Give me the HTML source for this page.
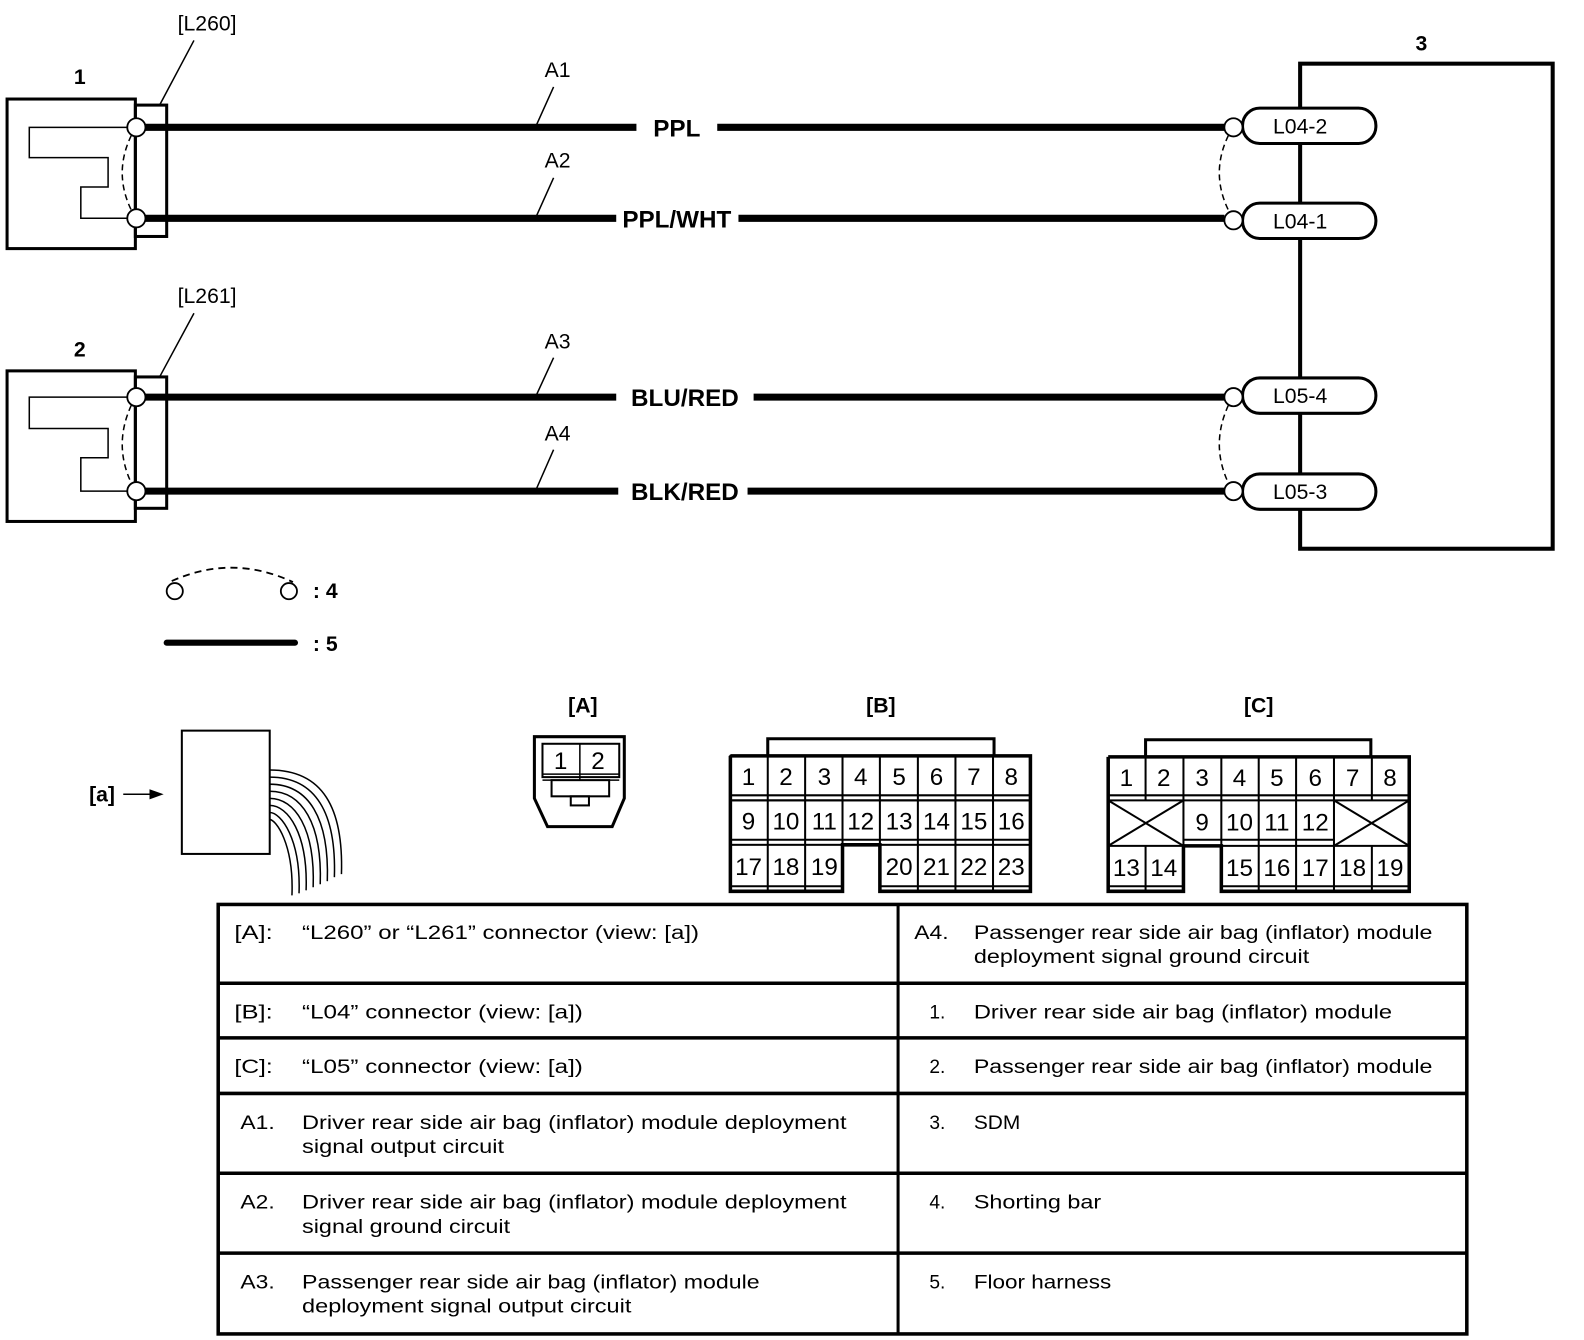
<!DOCTYPE html>
<html><head><meta charset="utf-8"><style>
html,body{margin:0;padding:0;background:#fff;}
svg{display:block;}
text{font-family:"Liberation Sans",Arial,sans-serif;fill:#000;}
.t text{font-size:19px;}
</style></head><body>
<svg width="1584" height="1340" viewBox="0 0 1568 1326" preserveAspectRatio="none" xmlns="http://www.w3.org/2000/svg">
<g fill="none" stroke="#000">
<rect x="7" y="98" width="127" height="148" stroke-width="3"/>
<rect x="134" y="104" width="31" height="130" stroke-width="3"/>
<polyline points="135,126 29,126 29,156 107,156 107,185 80,185 80,216 135,216" stroke-width="1.5"/>
<path d="M130,134 Q112,171 130,208" stroke-width="1.5" stroke-dasharray="6,4"/>
<rect x="7" y="367" width="127" height="149" stroke-width="3"/>
<rect x="134" y="373" width="31" height="130" stroke-width="3"/>
<polyline points="135,393 29,393 29,424 107,424 107,453 80,453 80,486 135,486" stroke-width="1.5"/>
<path d="M130,401 Q112,440 130,478" stroke-width="1.5" stroke-dasharray="6,4"/>
<g stroke-width="7">
<line x1="140" y1="126" x2="630" y2="126"/><line x1="710" y1="126" x2="1212" y2="126"/>
<line x1="140" y1="216" x2="610" y2="216"/><line x1="731" y1="216" x2="1212" y2="216"/>
<line x1="140" y1="393" x2="610" y2="393"/><line x1="746" y1="393" x2="1212" y2="393"/>
<line x1="140" y1="486" x2="612" y2="486"/><line x1="740" y1="486" x2="1212" y2="486"/>
</g>
<g stroke-width="1.5">
<line x1="192" y1="40" x2="158" y2="104"/>
<line x1="192" y1="310" x2="158" y2="373"/>
<line x1="548" y1="86" x2="530" y2="126"/>
<line x1="548" y1="176" x2="530" y2="216"/>
<line x1="548" y1="354" x2="530" y2="393"/>
<line x1="548" y1="445" x2="530" y2="486"/>
</g>
<rect x="1287" y="63" width="250" height="480" stroke-width="4"/>
<g stroke-width="3" fill="#fff">
<rect x="1230" y="107" width="132" height="35" rx="17"/>
<rect x="1230" y="201" width="132" height="35" rx="17"/>
<rect x="1230" y="374" width="132" height="35" rx="17"/>
<rect x="1230" y="469" width="132" height="35" rx="17"/>
</g>
<path d="M1216,134 Q1198,171 1216,208" stroke-width="1.5" stroke-dasharray="6,4"/>
<path d="M1216,401 Q1198,440 1216,478" stroke-width="1.5" stroke-dasharray="6,4"/>
<g stroke-width="1.8" fill="#fff">
<circle cx="135" cy="126" r="9"/><circle cx="135" cy="216" r="9"/>
<circle cx="135" cy="393" r="9"/><circle cx="135" cy="486" r="9"/>
<circle cx="1221" cy="126" r="9"/><circle cx="1221" cy="218" r="9"/>
<circle cx="1221" cy="393" r="9"/><circle cx="1221" cy="486" r="9"/>
</g>
<path d="M170,575 Q230,548 290,576" stroke-width="1.8" stroke-dasharray="7,5"/>
<circle cx="173" cy="585" r="8" stroke-width="1.8"/>
<circle cx="286" cy="585" r="8" stroke-width="1.8"/>
<line x1="165" y1="636" x2="292" y2="636" stroke-width="6" stroke-linecap="round"/>
<line x1="122" y1="786" x2="150" y2="786" stroke-width="1.5"/>
<polygon points="148,781 162,786 148,791" fill="#000" stroke="none"/>
<rect x="180" y="723" width="87" height="122" stroke-width="2"/>
<g stroke-width="1.5">
<path d="M267,762 C320,762 340,800 338,865"/>
<path d="M267,769 C313,769 333,805 331,868"/>
<path d="M267,776 C306,776 326,810 324,872"/>
<path d="M267,783 C299,783 319,815 317,875"/>
<path d="M267,790 C292,790 312,820 310,878"/>
<path d="M267,797 C285,797 305,825 303,881"/>
<path d="M267,804 C278,804 298,830 296,884"/>
<path d="M267,811 C273,811 291,835 289,886"/>
</g>
<path d="M529,729 L618,729 L618,790 L606,818 L542,818 L529,790 Z" stroke-width="3"/>
<rect x="537" y="736" width="76" height="33" stroke-width="2"/>
<line x1="574" y1="736" x2="574" y2="772" stroke-width="1.5"/>
<line x1="537" y1="766" x2="613" y2="766" stroke-width="1.5"/>
<line x1="537" y1="772" x2="613" y2="772" stroke-width="1.5"/>
<rect x="546" y="772" width="57" height="16" stroke-width="2"/>
<rect x="565" y="788" width="18" height="9" stroke-width="2"/>
<polyline points="760,748 760,731 984,731 984,748" stroke-width="3"/>
<g stroke-width="2">
<rect x="723" y="748" width="297" height="44"/>
<rect x="723" y="792" width="297" height="44"/>
<line x1="760" y1="748" x2="760" y2="882"/><line x1="797" y1="748" x2="797" y2="882"/>
<line x1="834" y1="748" x2="834" y2="882"/><line x1="871" y1="748" x2="871" y2="882"/>
<line x1="908.6" y1="748" x2="908.6" y2="882"/><line x1="945.8" y1="748" x2="945.8" y2="882"/>
<line x1="983" y1="748" x2="983" y2="882"/>
<line x1="723" y1="787" x2="1020" y2="787"/><line x1="723" y1="831" x2="1020" y2="831"/>
<line x1="723" y1="877" x2="834" y2="877"/><line x1="871" y1="877" x2="1020" y2="877"/>
</g>
<polyline points="723,748 1020,748 1020,882 871,882 871,836 834,836 834,882 723,882 723,748" stroke-width="3.5"/>
<polyline points="1134,749 1134,732 1357,732 1357,749" stroke-width="3"/>
<g stroke-width="2">
<line x1="1097" y1="792" x2="1395" y2="792"/>
<line x1="1097" y1="837" x2="1171" y2="837"/><line x1="1209" y1="837" x2="1395" y2="837"/>
<line x1="1171.5" y1="837" x2="1209" y2="837" stroke-width="3"/>
<line x1="1134" y1="749" x2="1134" y2="792"/><line x1="1134" y1="837" x2="1134" y2="882"/>
<line x1="1171.5" y1="749" x2="1171.5" y2="837"/>
<line x1="1209" y1="749" x2="1209" y2="882"/>
<line x1="1246" y1="749" x2="1246" y2="882"/><line x1="1283" y1="749" x2="1283" y2="882"/>
<line x1="1320.5" y1="749" x2="1320.5" y2="882"/>
<line x1="1358" y1="749" x2="1358" y2="792"/><line x1="1358" y1="837" x2="1358" y2="882"/>
<line x1="1097" y1="787" x2="1395" y2="787"/>
<line x1="1171.5" y1="831" x2="1320.5" y2="831"/>
<line x1="1097" y1="877" x2="1171.5" y2="877"/><line x1="1209" y1="877" x2="1395" y2="877"/>
<line x1="1097" y1="792" x2="1171.5" y2="837"/><line x1="1171.5" y1="792" x2="1097" y2="837"/>
<line x1="1320.5" y1="792" x2="1395" y2="837"/><line x1="1395" y1="792" x2="1320.5" y2="837"/>
</g>
<polyline points="1097,749 1395,749 1395,882 1209,882 1209,837 1171.5,837 1171.5,882 1097,882 1097,749" stroke-width="3.5"/>
<rect x="216" y="895" width="1236" height="425" stroke-width="3.5"/>
<line x1="889" y1="895" x2="889" y2="1320" stroke-width="3"/>
<g stroke-width="3.5">
<line x1="216" y1="973" x2="1452" y2="973"/><line x1="216" y1="1027" x2="1452" y2="1027"/>
<line x1="216" y1="1082" x2="1452" y2="1082"/><line x1="216" y1="1161" x2="1452" y2="1161"/>
<line x1="216" y1="1240" x2="1452" y2="1240"/>
</g>
</g>
<g font-size="21">
<text x="205" y="30" text-anchor="middle">[L260]</text>
<text x="205" y="300" text-anchor="middle">[L261]</text>
<text x="79" y="83" text-anchor="middle" font-weight="bold">1</text>
<text x="79" y="353" text-anchor="middle" font-weight="bold">2</text>
<text x="1407" y="50" text-anchor="middle" font-weight="bold">3</text>
<text x="552" y="76" text-anchor="middle">A1</text>
<text x="552" y="166" text-anchor="middle">A2</text>
<text x="552" y="345" text-anchor="middle">A3</text>
<text x="552" y="436" text-anchor="middle">A4</text>
</g>
<g font-size="24" font-weight="bold" text-anchor="middle">
<text x="670" y="135">PPL</text>
<text x="670" y="225">PPL/WHT</text>
<text x="678" y="402">BLU/RED</text>
<text x="678" y="495">BLK/RED</text>
</g>
<g font-size="21" text-anchor="middle">
<text x="1287" y="132">L04-2</text>
<text x="1287" y="226">L04-1</text>
<text x="1287" y="399">L05-4</text>
<text x="1287" y="494">L05-3</text>
<text x="322" y="592" font-weight="bold">: 4</text>
<text x="322" y="644" font-weight="bold">: 5</text>
<text x="101" y="793" font-weight="bold">[a]</text>
<text x="577" y="705" font-weight="bold">[A]</text>
<text x="872" y="705" font-weight="bold">[B]</text>
<text x="1246" y="705" font-weight="bold">[C]</text>
</g>
<g font-size="24" text-anchor="middle">
<text x="555" y="761">1</text><text x="592" y="761">2</text>
<text x="741" y="777">1</text><text x="778" y="777">2</text><text x="816" y="777">3</text><text x="852" y="777">4</text><text x="890" y="777">5</text><text x="927" y="777">6</text><text x="964" y="777">7</text><text x="1001" y="777">8</text>
<text x="741" y="821">9</text><text x="778" y="821">10</text><text x="816" y="821">11</text><text x="852" y="821">12</text><text x="890" y="821">13</text><text x="927" y="821">14</text><text x="964" y="821">15</text><text x="1001" y="821">16</text>
<text x="741" y="866">17</text><text x="778" y="866">18</text><text x="816" y="866">19</text><text x="890" y="866">20</text><text x="927" y="866">21</text><text x="964" y="866">22</text><text x="1001" y="866">23</text>
<text x="1115" y="778">1</text><text x="1152" y="778">2</text><text x="1190" y="778">3</text><text x="1227" y="778">4</text><text x="1264" y="778">5</text><text x="1302" y="778">6</text><text x="1339" y="778">7</text><text x="1376" y="778">8</text>
<text x="1190" y="822">9</text><text x="1227" y="822">10</text><text x="1264" y="822">11</text><text x="1302" y="822">12</text>
<text x="1115" y="867">13</text><text x="1152" y="867">14</text><text x="1227" y="867">15</text><text x="1264" y="867">16</text><text x="1302" y="867">17</text><text x="1339" y="867">18</text><text x="1376" y="867">19</text>
</g>
<g class="t">
<text x="232" y="929" textLength="38" lengthAdjust="spacingAndGlyphs">[A]:</text><text x="299" y="929" textLength="393" lengthAdjust="spacingAndGlyphs">“L260” or “L261” connector (view: [a])</text>
<text x="232" y="1008" textLength="38" lengthAdjust="spacingAndGlyphs">[B]:</text><text x="299" y="1008" textLength="278" lengthAdjust="spacingAndGlyphs">“L04” connector (view: [a])</text>
<text x="232" y="1062" textLength="38" lengthAdjust="spacingAndGlyphs">[C]:</text><text x="299" y="1062" textLength="278" lengthAdjust="spacingAndGlyphs">“L05” connector (view: [a])</text>
<text x="238" y="1117" textLength="34" lengthAdjust="spacingAndGlyphs">A1.</text><text x="299" y="1117" textLength="539" lengthAdjust="spacingAndGlyphs">Driver rear side air bag (inflator) module deployment</text><text x="299" y="1141" textLength="200" lengthAdjust="spacingAndGlyphs">signal output circuit</text>
<text x="238" y="1196" textLength="34" lengthAdjust="spacingAndGlyphs">A2.</text><text x="299" y="1196" textLength="539" lengthAdjust="spacingAndGlyphs">Driver rear side air bag (inflator) module deployment</text><text x="299" y="1220" textLength="206" lengthAdjust="spacingAndGlyphs">signal ground circuit</text>
<text x="238" y="1275" textLength="34" lengthAdjust="spacingAndGlyphs">A3.</text><text x="299" y="1275" textLength="453" lengthAdjust="spacingAndGlyphs">Passenger rear side air bag (inflator) module</text><text x="299" y="1299" textLength="326" lengthAdjust="spacingAndGlyphs">deployment signal output circuit</text>
<text x="905" y="929" textLength="34" lengthAdjust="spacingAndGlyphs">A4.</text><text x="964" y="929" textLength="454" lengthAdjust="spacingAndGlyphs">Passenger rear side air bag (inflator) module</text><text x="964" y="953" textLength="332" lengthAdjust="spacingAndGlyphs">deployment signal ground circuit</text>
<text x="920" y="1008">1.</text><text x="964" y="1008" textLength="414" lengthAdjust="spacingAndGlyphs">Driver rear side air bag (inflator) module</text>
<text x="920" y="1062">2.</text><text x="964" y="1062" textLength="454" lengthAdjust="spacingAndGlyphs">Passenger rear side air bag (inflator) module</text>
<text x="920" y="1117">3.</text><text x="964" y="1117" textLength="46" lengthAdjust="spacingAndGlyphs">SDM</text>
<text x="920" y="1196">4.</text><text x="964" y="1196" textLength="126" lengthAdjust="spacingAndGlyphs">Shorting bar</text>
<text x="920" y="1275">5.</text><text x="964" y="1275" textLength="136" lengthAdjust="spacingAndGlyphs">Floor harness</text>
</g>
</svg>
</body></html>
